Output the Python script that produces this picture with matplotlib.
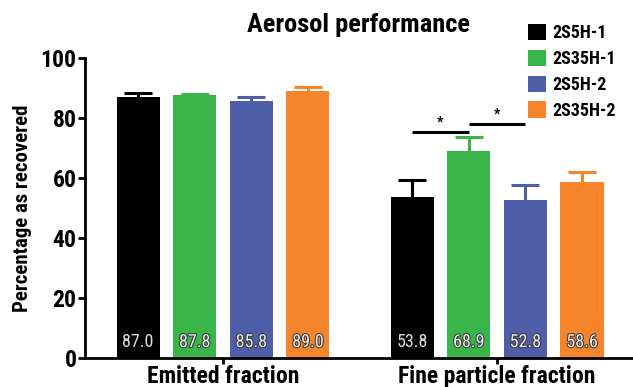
import numpy as np
import matplotlib
matplotlib.use("Agg")
import matplotlib.pyplot as plt
import matplotlib.patheffects as pe
from matplotlib.patches import Patch

plt.rcParams['font.family'] = ['Roboto Condensed', 'DejaVu Sans']

groups = ["Emitted fraction", "Fine particle fraction"]
series = ["2S5H-1", "2S35H-1", "2S5H-2", "2S35H-2"]
colors = ["#000000", "#3ab54a", "#4f5ea8", "#f5842b"]

means = np.array([[87.0, 87.8, 85.8, 89.0],
                  [53.8, 68.9, 52.8, 58.6]])
errs = np.array([[1.2, 0.3, 1.2, 1.2],
                 [5.4, 4.7, 4.9, 3.5]])

# significance brackets: (group, bar a, bar b, y), star at middle
sig = [(1, 0, 1, 75.3), (1, 1, 2, 78.0)]

fig = plt.figure(figsize=(6.33, 3.87), dpi=100)
ax = fig.add_axes([0.134, 0.075, 0.866, 0.775])

step = 0.2066
width = 0.157
xg = np.arange(len(groups))

for i, s in enumerate(series):
    xs = xg + (i - 1.5) * step
    ax.bar(xs, means[:, i], width, color=colors[i], zorder=2)
    _, caps, _ = ax.errorbar(xs, means[:, i],
                             yerr=[np.zeros(len(groups)), errs[:, i]],
                             fmt="none", ecolor=colors[i], elinewidth=2.2,
                             capsize=10, capthick=2.2, zorder=1)
    caps[0].set_visible(False)  # lower cap sits on the bar top
    for x, v in zip(xs, means[:, i]):
        t = ax.text(x, 5.3, f"{v:.1f}", ha="center", va="center",
                    fontsize=13, color="#dcdcdc", zorder=3)
        if i > 0:
            t.set_color("#ececec")
            t.set_path_effects([pe.withStroke(linewidth=1.5, foreground="#3a3a3a")])

for g, a, b, y in sig:
    xa = g + (a - 1.5) * step
    xb = g + (b - 1.5) * step
    ax.plot([xa, xb], [y, y], color="black", lw=2.2, solid_capstyle="butt")
    ax.text((xa + xb) / 2, y + 0.8, "*", ha="center", va="bottom",
            fontsize=10, fontweight="bold")

ax.set_xlim(-0.504, 1.496)
ax.set_ylim(0, 100)
ax.set_yticks([0, 20, 40, 60, 80, 100])
ax.set_xticks(xg)
ax.set_xticklabels(groups, fontsize=17, fontweight="bold")
for lab in ax.get_yticklabels():
    lab.set_fontsize(17)
    lab.set_fontweight("bold")

ax.spines["top"].set_visible(False)
ax.spines["right"].set_visible(False)
ax.spines["left"].set_linewidth(2)
ax.spines["bottom"].set_linewidth(2)
ax.tick_params(axis="y", length=5, width=2, pad=1)
ax.tick_params(axis="x", length=4, width=2, pad=1)

ax.set_ylabel("Percentage as recovered", fontsize=15, fontweight="bold",
              labelpad=6)
fig.text(0.567, 0.935, "Aerosol performance", ha="center", va="center",
         fontsize=19, fontweight="bold")

handles = [Patch(facecolor=c) for c in colors]
leg = fig.legend(handles, series, loc="upper left",
                 bbox_to_anchor=(0.822, 0.957), frameon=False,
                 prop={"size": 13, "weight": "bold"},
                 handlelength=1.0, handleheight=1.0, handletextpad=0.4,
                 labelspacing=0.42, borderaxespad=0)

fig.savefig("out.png", dpi=100)
